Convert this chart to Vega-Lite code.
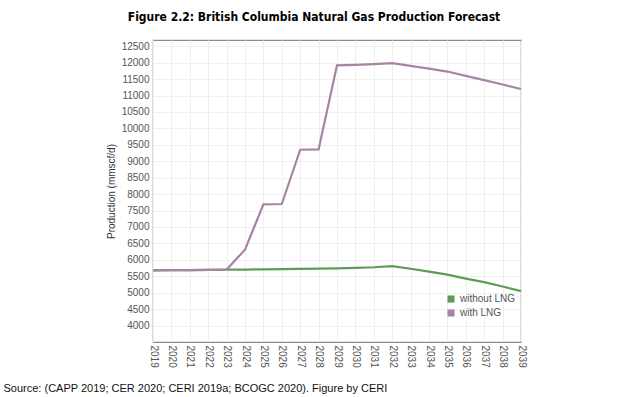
{
  "$schema": "https://vega.github.io/schema/vega-lite/v6.json",
  "width": 368,
  "height": 302,
  "autosize": {"type": "none"},
  "padding": {"left": 153, "top": 40, "right": 100, "bottom": 55},
  "background": "white",
  "title": {
    "text": "Figure 2.2: British Columbia Natural Gas Production Forecast",
    "font": "DejaVu Sans Condensed, Liberation Sans",
    "fontSize": 12,
    "fontWeight": "bold",
    "color": "#000000",
    "anchor": "middle",
    "dx": -23,
    "offset": 16
  },
  "data": {
    "values": [
      {"year": 2019, "series": "without LNG", "value": 5680},
      {"year": 2020, "series": "without LNG", "value": 5685},
      {"year": 2021, "series": "without LNG", "value": 5690},
      {"year": 2022, "series": "without LNG", "value": 5695},
      {"year": 2023, "series": "without LNG", "value": 5700},
      {"year": 2024, "series": "without LNG", "value": 5705},
      {"year": 2025, "series": "without LNG", "value": 5710},
      {"year": 2026, "series": "without LNG", "value": 5720},
      {"year": 2027, "series": "without LNG", "value": 5725},
      {"year": 2028, "series": "without LNG", "value": 5730},
      {"year": 2029, "series": "without LNG", "value": 5740},
      {"year": 2030, "series": "without LNG", "value": 5755},
      {"year": 2031, "series": "without LNG", "value": 5775},
      {"year": 2032, "series": "without LNG", "value": 5810},
      {"year": 2033, "series": "without LNG", "value": 5730},
      {"year": 2034, "series": "without LNG", "value": 5640},
      {"year": 2035, "series": "without LNG", "value": 5550},
      {"year": 2036, "series": "without LNG", "value": 5430},
      {"year": 2037, "series": "without LNG", "value": 5320},
      {"year": 2038, "series": "without LNG", "value": 5190},
      {"year": 2039, "series": "without LNG", "value": 5050},
      {"year": 2019, "series": "with LNG", "value": 5680},
      {"year": 2020, "series": "with LNG", "value": 5685},
      {"year": 2021, "series": "with LNG", "value": 5690},
      {"year": 2022, "series": "with LNG", "value": 5695},
      {"year": 2023, "series": "with LNG", "value": 5705},
      {"year": 2024, "series": "with LNG", "value": 6310},
      {"year": 2025, "series": "with LNG", "value": 7690},
      {"year": 2026, "series": "with LNG", "value": 7700},
      {"year": 2027, "series": "with LNG", "value": 9350},
      {"year": 2028, "series": "with LNG", "value": 9360},
      {"year": 2029, "series": "with LNG", "value": 11920},
      {"year": 2030, "series": "with LNG", "value": 11935},
      {"year": 2031, "series": "with LNG", "value": 11955},
      {"year": 2032, "series": "with LNG", "value": 11985},
      {"year": 2033, "series": "with LNG", "value": 11900},
      {"year": 2034, "series": "with LNG", "value": 11820},
      {"year": 2035, "series": "with LNG", "value": 11730},
      {"year": 2036, "series": "with LNG", "value": 11600},
      {"year": 2037, "series": "with LNG", "value": 11470},
      {"year": 2038, "series": "with LNG", "value": 11335},
      {"year": 2039, "series": "with LNG", "value": 11200}
    ]
  },
  "mark": {"type": "line", "strokeWidth": 2.2},
  "encoding": {
    "x": {
      "field": "year",
      "type": "quantitative",
      "scale": {"domain": [2019, 2039], "nice": false, "zero": false},
      "axis": {
        "values": [2019,2020,2021,2022,2023,2024,2025,2026,2027,2028,2029,2030,2031,2032,2033,2034,2035,2036,2037,2038,2039],
        "format": "d",
        "labelAngle": 90,
        "labelAlign": "left",
        "labelBaseline": "middle",
        "labelFont": "Liberation Sans",
        "labelFontSize": 10,
        "labelColor": "#555555",
        "labelPadding": 3,
        "ticks": false,
        "domainColor": "#8a8a8a",
        "domainWidth": 1.2,
        "grid": true,
        "gridColor": "#efefef",
        "labelOverlap": false,
        "title": "Source: (CAPP 2019; CER 2020; CERI 2019a; BCOGC 2020). Figure by CERI",
        "titleFont": "Liberation Sans",
        "titleFontSize": 11,
        "titleFontWeight": "normal",
        "titleColor": "#111111",
        "titleAnchor": "start",
        "titleAlign": "left",
        "titleBaseline": "middle",
        "titleX": -150,
        "titleY": 46
      }
    },
    "y": {
      "field": "value",
      "type": "quantitative",
      "scale": {"domain": [3500, 12690], "nice": false, "zero": false},
      "axis": {
        "values": [4000,4500,5000,5500,6000,6500,7000,7500,8000,8500,9000,9500,10000,10500,11000,11500,12000,12500],
        "format": "d",
        "labelFont": "Liberation Sans",
        "labelFontSize": 10,
        "labelColor": "#555555",
        "labelPadding": 4,
        "ticks": false,
        "domain": false,
        "grid": true,
        "gridColor": "#efefef",
        "title": "Production (mmscf/d)",
        "titleFont": "Liberation Sans",
        "titleFontSize": 10,
        "titleFontWeight": "normal",
        "titleColor": "#333333",
        "titlePadding": 5
      }
    },
    "color": {
      "field": "series",
      "type": "nominal",
      "scale": {"domain": ["without LNG", "with LNG"], "range": ["#5e9c55", "#a585a3"]},
      "legend": {
        "title": null,
        "orient": "none",
        "legendX": 293,
        "legendY": 254,
        "symbolType": "square",
        "symbolSize": 50,
        "symbolStrokeWidth": 0,
        "labelFont": "Liberation Sans",
        "labelFontSize": 10,
        "labelColor": "#555555",
        "rowPadding": 4,
        "labelOffset": 4,
        "encode": {
          "symbols": {
            "update": {
              "fill": {"scale": "color", "field": "value"},
              "opacity": {"value": 1}
            }
          }
        }
      }
    }
  },
  "config": {
    "view": {"stroke": "#8a8a8a", "strokeWidth": 1.2}
  }
}
